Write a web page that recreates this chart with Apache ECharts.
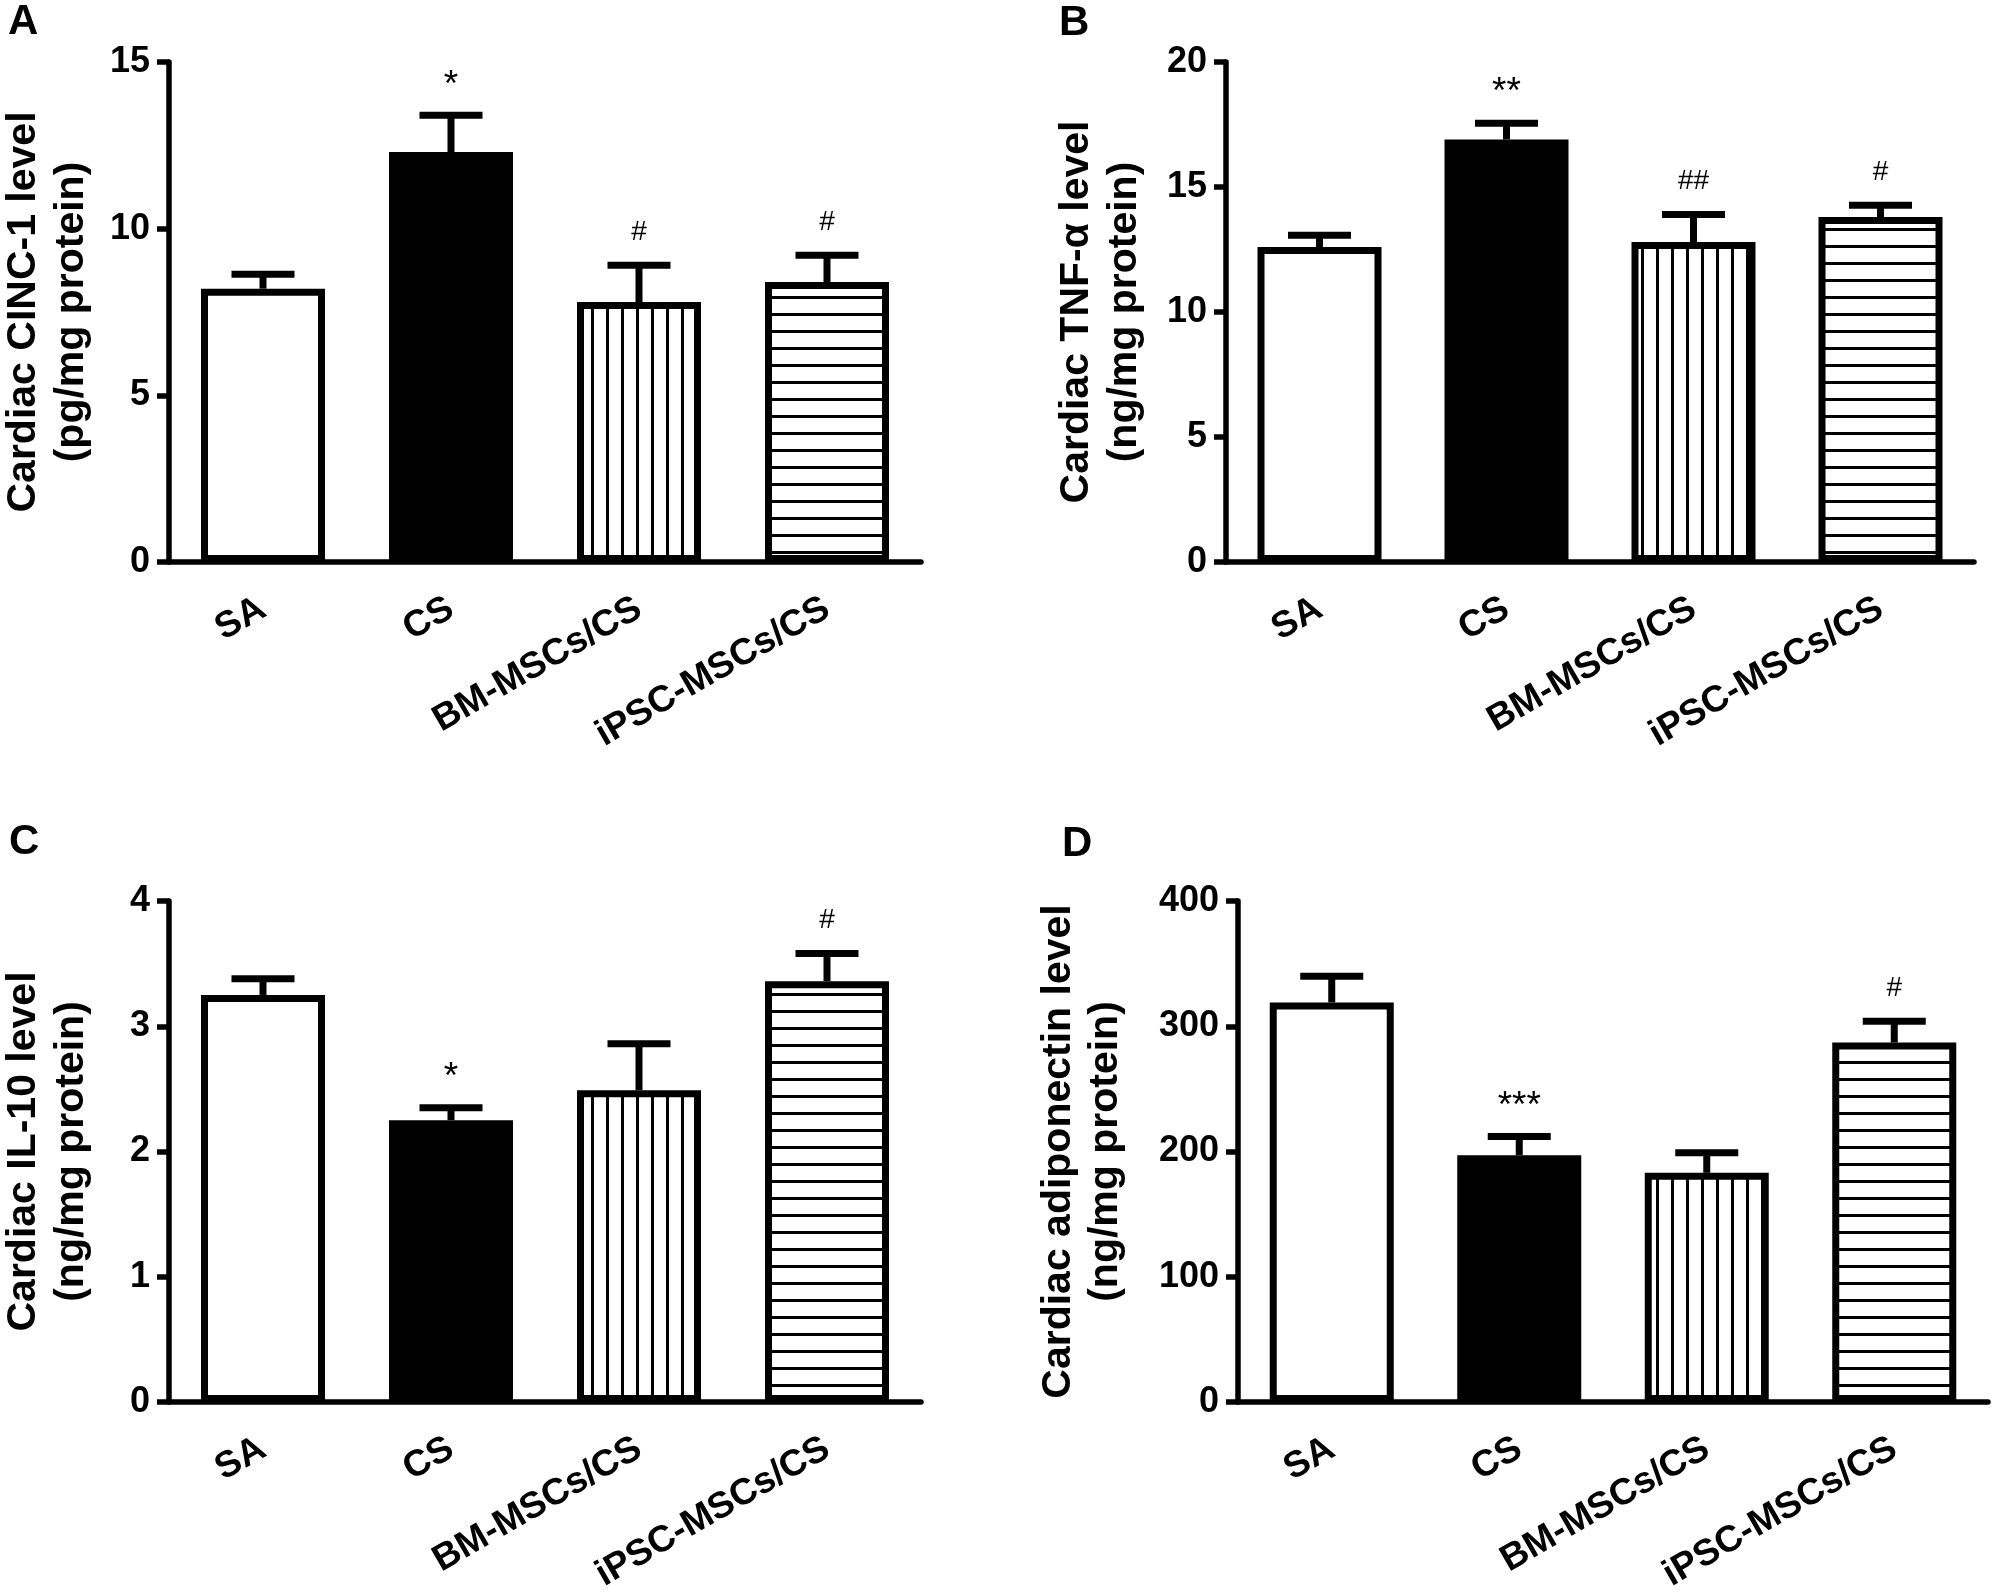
<!DOCTYPE html>
<html>
<head>
<meta charset="utf-8">
<script src="https://cdn.jsdelivr.net/npm/echarts@6/dist/echarts.min.js"></script>
<style>
html,body{margin:0;padding:0;background:#fff;}
#c{width:1998px;height:1596px;}
</style>
</head>
<body>
<div id="c"></div>
<script>
// ---------------- data ----------------
const categories = ['SA', 'CS', 'BM-MSCs/CS', 'iPSC-MSCs/CS'];

const cinc1Mean = [8.2, 12.3, 7.8, 8.4];
const cinc1Sem  = [0.43, 1.1, 1.1, 0.8];
const cinc1Sig  = ['', '*', '#', '#'];
const cinc1Axis = [0, 15, 5];   // min, max, interval

const tnfMean = [12.6, 16.9, 12.8, 13.8];
const tnfSem  = [0.47, 0.65, 1.1, 0.47];
const tnfSig  = ['', '**', '##', '#'];
const tnfAxis = [0, 20, 5];

const il10Mean = [3.25, 2.25, 2.49, 3.36];
const il10Sem  = [0.13, 0.10, 0.37, 0.22];
const il10Sig  = ['', '*', '', '#'];
const il10Axis = [0, 4, 1];

const adipoMean = [319, 197, 183, 287];
const adipoSem  = [21, 15, 16, 17];
const adipoSig  = ['', '***', '', '#'];
const adipoAxis = [0, 400, 100];

// ---------------- styling / layout ----------------
const FONT = '"Liberation Sans", Arial, Helvetica, sans-serif';

function makePattern(vertical) {
  const c = document.createElement('canvas');
  const ctx = c.getContext('2d');
  if (vertical) {
    c.width = 15; c.height = 10;
    ctx.fillStyle = '#fff'; ctx.fillRect(0, 0, 15, 10);
    ctx.fillStyle = '#000'; ctx.fillRect(6, 0, 3, 10);
  } else {
    c.width = 10; c.height = 17;
    ctx.fillStyle = '#fff'; ctx.fillRect(0, 0, 10, 17);
    ctx.fillStyle = '#000'; ctx.fillRect(0, 7, 10, 3);
  }
  return { image: c, repeat: 'repeat' };
}
const fills = ['#ffffff', '#000000', makePattern(true), makePattern(false)];

const panels = [
  { letter: 'A', mean: cinc1Mean, sem: cinc1Sem, sig: cinc1Sig, axis: cinc1Axis,
    title: ['Cardiac CINC-1 level', '(pg/mg protein)'],
    grid: { left: 169, top: 62, width: 752, height: 500 }, titleX: [24, 72], letterPos: [8, 22] },
  { letter: 'B', mean: tnfMean, sem: tnfSem, sig: tnfSig, axis: tnfAxis,
    title: ['Cardiac TNF-α level', '(ng/mg protein)'],
    grid: { left: 1226, top: 62, width: 748, height: 500 }, titleX: [1077, 1125], letterPos: [1059, 23] },
  { letter: 'C', mean: il10Mean, sem: il10Sem, sig: il10Sig, axis: il10Axis,
    title: ['Cardiac IL-10 level', '(ng/mg protein)'],
    grid: { left: 169, top: 901, width: 752, height: 501 }, titleX: [24, 72], letterPos: [9, 842] },
  { letter: 'D', mean: adipoMean, sem: adipoSem, sig: adipoSig, axis: adipoAxis,
    title: ['Cardiac adiponectin level', '(ng/mg protein)'],
    grid: { left: 1238, top: 901, width: 750, height: 501 }, titleX: [1059, 1106], letterPos: [1062, 844] }
];

const grid = [], xAxis = [], yAxis = [], series = [], graphic = [];

panels.forEach((p, i) => {
  grid.push(Object.assign({ containLabel: false }, p.grid));
  xAxis.push({
    type: 'category', gridIndex: i, data: categories,
    axisLine: { lineStyle: { color: '#000', width: 5.5 } },
    axisTick: { alignWithLabel: true, length: 12, lineStyle: { color: '#000', width: 5.5 } },
    axisLabel: { rotate: 30, margin: 44, interval: 0, fontSize: 37, fontWeight: 'bold',
                 color: '#000', fontFamily: FONT },
    splitLine: { show: false }
  });
  yAxis.push({
    type: 'value', gridIndex: i, min: p.axis[0], max: p.axis[1], interval: p.axis[2],
    axisLine: { show: true, lineStyle: { color: '#000', width: 5.5 } },
    axisTick: { show: true, length: 12, lineStyle: { color: '#000', width: 5.5 } },
    axisLabel: { fontSize: 36, fontWeight: 'bold', color: '#000', margin: 19, fontFamily: FONT },
    splitLine: { show: false }
  });
  series.push({
    type: 'bar', xAxisIndex: i, yAxisIndex: i, barWidth: 124, z: 2, silent: true,
    data: p.mean.map((m, j) => ({
      value: m,
      itemStyle: { color: fills[j], borderColor: '#000', borderWidth: 7 }
    }))
  });
  series.push({
    type: 'custom', xAxisIndex: i, yAxisIndex: i, z: 5, silent: true,
    data: p.mean.map((m, j) => [j, m, p.sem[j]]),
    renderItem: (params, api) => {
      const j = api.value(0);
      const base = api.coord([j, api.value(1)]);
      const top = api.coord([j, api.value(1) + api.value(2)]);
      const children = [
        { type: 'line', shape: { x1: base[0], y1: base[1], x2: base[0], y2: top[1] },
          style: { stroke: '#000', lineWidth: 7 } },
        { type: 'line', shape: { x1: base[0] - 31.5, y1: top[1], x2: base[0] + 31.5, y2: top[1] },
          style: { stroke: '#000', lineWidth: 7 } }
      ];
      const s = p.sig[params.dataIndex];
      if (s) {
        const star = s[0] === '*';
        children.push({
          type: 'text', x: base[0], y: top[1] - (star ? 30 : 33),
          style: { text: s, fill: '#000', fontSize: star ? 37 : 28, fontFamily: FONT,
                   align: 'center', verticalAlign: 'middle' }
        });
      }
      return { type: 'group', children };
    }
  });
  const cy = p.grid.top + p.grid.height / 2;
  p.title.forEach((t, k) => {
    graphic.push({
      type: 'text', x: p.titleX[k], y: cy, rotation: Math.PI / 2,
      style: { text: t, fill: '#000', fontSize: 41, fontWeight: 'bold', fontFamily: FONT,
               align: 'center', verticalAlign: 'middle' }
    });
  });
  graphic.push({
    type: 'text', x: p.letterPos[0], y: p.letterPos[1],
    style: { text: p.letter, fill: '#000', fontSize: 42, fontWeight: 'bold', fontFamily: FONT,
             align: 'left', verticalAlign: 'middle' }
  });
});

const chart = echarts.init(document.getElementById('c'), null, { renderer: 'canvas' });
chart.setOption({
  backgroundColor: '#fff',
  animation: false,
  grid, xAxis, yAxis, series, graphic
});
</script>
</body>
</html>
